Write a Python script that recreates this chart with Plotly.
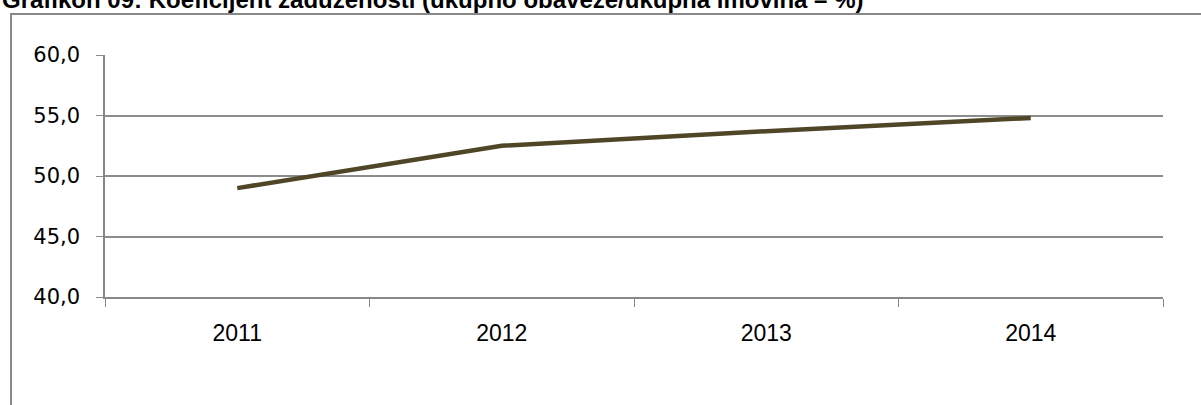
import plotly.graph_objects as go

years = ["2011", "2012", "2013", "2014"]
ratio = [49.0, 52.5, 53.7, 54.8]
y_ticks = [40, 45, 50, 55, 60]

title_text = "Grafikon 09: Koeficijent zaduženosti (ukupno obaveze/ukupna imovina – %)"

W, H = 1201, 405
left, right, top, bottom = 105, 38, 55, 108
pw, ph = W - left - right, H - top - bottom


def px_x(p):
    return (p - left) / pw


def px_y(p):
    return (H - bottom - p) / ph


fig = go.Figure()
fig.add_trace(go.Scatter(
    x=years, y=ratio, mode="lines",
    line=dict(color="#4F4628", width=4.5),
    showlegend=False, hoverinfo="x+y"
))

fig.update_layout(
    width=W, height=H,
    margin=dict(l=left, r=right, t=top, b=bottom),
    plot_bgcolor="white", paper_bgcolor="white",
    separators=",.",
    font=dict(family="Liberation Sans, Arial, sans-serif", color="black"),
    xaxis=dict(
        type="category", range=[-0.5, 3.5],
        showgrid=False, showline=True, linecolor="#888888", linewidth=1.5,
        ticks="outside", tickson="boundaries", ticklen=8, tickcolor="#888888",
        tickfont=dict(size=23, family="Liberation Sans, Arial, sans-serif"),
        ticklabelstandoff=15,
    ),
    yaxis=dict(
        range=[40, 60], tickvals=y_ticks, tickformat=".1f",
        showgrid=True, gridcolor="#8c8c8c", gridwidth=1.5,
        showline=True, linecolor="#888888", linewidth=1.5,
        ticks="outside", ticklen=7, tickcolor="#8c8c8c",
        tickfont=dict(size=21, family="DejaVu Sans, sans-serif"),
        ticklabelstandoff=12,
        zeroline=False,
    ),
)

# outer chart border (extends past right and bottom edges)
fig.add_shape(type="rect", xref="paper", yref="paper",
              x0=px_x(11), x1=px_x(1215), y0=px_y(14), y1=px_y(420),
              line=dict(color="#888888", width=2), fillcolor="rgba(0,0,0,0)", layer="below")

# title sits partly above the top edge, as in the source image
fig.add_annotation(
    text="<b>" + title_text + "</b>", xref="paper", yref="paper",
    x=px_x(0), y=px_y(-1), xanchor="left", yanchor="middle",
    showarrow=False, font=dict(size=24, color="black", family="Liberation Sans, Arial, sans-serif"),
)

fig.write_html("out.html", config={"displayModeBar": False},
               post_script="document.body.style.margin='0';")
